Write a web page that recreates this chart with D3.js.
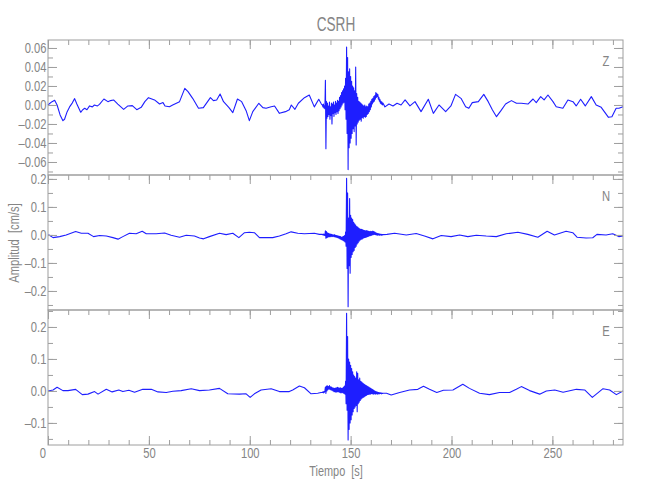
<!DOCTYPE html>
<html><head><meta charset="utf-8">
<script src="https://cdn.jsdelivr.net/npm/d3@7"></script>
<style>
body{margin:0;background:#fff}
text{font-family:"Liberation Sans",Arial,sans-serif;fill:#858585;white-space:pre}
</style>
</head><body><svg id="c" width="650" height="500"></svg>
<script>
// ---------- data ----------
const title = "CSRH";
const components = ["Z", "N", "E"];
const xLabel = "Tiempo  [s]";
const yLabel = "Amplitud  [cm/s]";
const timeDomain = [0, 285];
const xTicks = [0, 50, 100, 150, 200, 250];
const xMinorStep = 10;

const zDomain = [-0.0737, 0.0684];
const nDomain = [-0.268, 0.214];
const eDomain = [-0.169, 0.253];
const zTicks = [0.06, 0.04, 0.02, 0.00, -0.02, -0.04, -0.06];
const nTicks = [0.2, 0.1, 0.0, -0.1, -0.2];
const eTicks = [0.2, 0.1, 0.0, -0.1];
const zMinorStep = 0.01, nMinorStep = 0.05, eMinorStep = 0.05;

// quiet parts of the traces (time [s], amplitude [cm/s])
const zT = [0,0.5,2,3.3,4.5,6,7.4,8.2,9.5,10.7,12,13.2,14.3,16.2,17.2,18.2,19.3,20.6,22,23,24.5,25.5,27.7,29.7,31,32.5,34.6,37.5,39.6,41.8,44,46.2,48,49.8,52.8,55.3,57,58,60.2,61.8,65.2,67.8,69.4,71.7,74.6,77,80.5,82,83.6,85.3,87,89.6,91.6,93.9,96,98.2,99.8,101.5,104.5,106.5,108.1,110.6,112.3,114.7,117.7,119.6,120.6,122.4,124.1,127.1,129.5,132,134.2,135.5,
  167,169,171,173,175,177,179.4,181.9,184.9,188.5,191,193.8,197.1,199.7,202,204.7,207,208.6,210.3,213.3,216,218.2,220.3,222.3,224.5,226.8,229.7,232.2,234.6,237.9,240.4,242,244.2,245.9,247.8,250.3,251.9,255.2,257.7,260.2,261.8,264,266.3,269.3,271.7,274.2,277.8,279.5,281.6,283,285];
const zV = [0,0.001,0.0035,0.005,0,-0.0105,-0.0165,-0.015,-0.007,-0.002,0.002,0.0067,0.001,-0.0077,-0.005,-0.0035,-0.005,-0.001,-0.002,0,-0.001,0.0007,0.0063,0.0035,0.0046,0.0053,0.001,-0.0046,-0.001,-0.0007,-0.0049,-0.0025,0.0035,0.0077,0.0053,0.001,0.0025,-0.001,-0.0018,0,0.0035,0.0175,0.014,0.007,-0.0035,-0.0028,0.0077,0.0046,0.0053,0.0116,0.0035,-0.0025,-0.008,0.0063,0.0035,-0.006,-0.0165,-0.007,0.0018,-0.0028,-0.0035,-0.0018,-0.001,-0.0088,-0.007,-0.005,0,-0.0046,0.0018,0.0077,0.0105,-0.002,0.006,0.001,
  -0.002,0.001,-0.001,0.0018,0,0.0053,-0.001,0.0035,-0.007,0.006,-0.0088,0,-0.007,-0.001,0.0112,0.007,-0.0018,-0.0035,0.0025,0.0035,0.0112,0.0035,-0.0053,-0.0123,-0.006,0.001,0.0046,0.0018,0.0018,0.001,0.0063,0.0025,0.0088,0.0053,0.0105,0.0035,-0.0018,-0.0035,0.0053,0.0035,-0.001,0.006,-0.001,0.0088,0,-0.0025,-0.013,-0.0123,-0.0035,-0.0035,-0.0018];

const nT = [0,0.5,2.5,5.8,9,13.7,16.5,19.8,22.6,25.6,28.9,32.2,34.7,37.1,40.4,43.7,46.7,48.7,53.6,57.8,61,65.2,68.5,72.6,75.1,77.1,80,85,88.3,91.6,94.6,97.4,99.8,102.3,104.8,108.1,111.4,114.7,118,120.5,123.8,127.1,132,134.5,
  168,171.8,177.6,182.5,186.6,190.8,194.9,199.8,204,208.1,212.3,217.2,222.2,227.1,232.9,237.8,242.8,247.4,251,256.8,260.1,262.2,266.7,270,272.1,276.6,279.9,282.9,285];
const nV = [0,0,-0.0095,-0.006,0,0.012,0.006,0.006,-0.006,-0.002,-0.004,-0.0095,-0.015,-0.006,0.006,0.004,0.013,0.004,0.004,0.007,-0.001,-0.008,-0.001,-0.004,-0.011,-0.014,-0.006,0.006,0.001,0.006,-0.0095,0.008,0.0095,0.008,-0.0095,-0.0095,-0.0095,-0.004,0.004,0.011,0.006,0.004,0.006,0.002,
  0.002,0.006,0,0.005,-0.004,-0.014,-0.002,-0.006,0,-0.006,-0.001,-0.004,-0.006,0.004,0.0095,0.002,-0.008,0.013,0,0.013,0.008,-0.008,-0.011,-0.01,0.002,0,0.004,-0.006,-0.004];

const eT = [0,2.5,4.5,7.4,9.9,13.7,17,19.8,23.1,24.8,28.9,31.8,35.1,37.1,40.1,42.9,47,51.2,54.5,58.6,61.9,66,71,75.1,80,85,89.1,94.9,98.2,100.2,102.3,105.6,110.6,114.7,119.6,121.3,124.6,127.1,130.4,133.7,135.3,
  167.8,170.1,174.3,179.2,183.3,186.1,189.1,192.7,196,200.7,205.6,208.9,213.9,218.8,223.8,228.8,232.1,234.6,238.7,243.7,247,251.2,255.3,261.9,266,269.8,275.1,278.4,281.7,285];
const eV = [0,0.003,0.0115,0.001,0.001,0.005,-0.0115,-0.01,-0.002,-0.01,0.005,-0.003,0.003,-0.002,0.002,-0.004,0.005,0.005,-0.003,-0.005,-0.001,0.001,0.007,0.001,0.003,0.008,-0.009,-0.01,-0.009,-0.02,-0.009,0.003,0.007,-0.002,-0.002,0.003,0.0155,0.01,-0.009,-0.007,-0.005,
  -0.007,-0.0125,-0.005,0.003,0.005,0.0146,0.005,-0.005,0.002,0.003,0.021,0.008,-0.007,-0.0115,-0.005,-0.005,0.005,0.0135,0.001,-0.01,0,0.003,-0.004,0.005,0.003,-0.02,0.007,0.003,-0.0115,0];

// earthquake section, sampled every 0.25 s from 136 s to 166 s
const burstStart = 136, burstStep = 0.25;
const zBurst = [0,-0.002,0.001,-0.003,-0.001,-0.004,0.026,-0.046,0.004,-0.014,0.002,-0.012,-0.001,-0.01,0.003,-0.015,-0.002,-0.011,0.002,-0.02,0.001,-0.009,0.003,-0.012,0,-0.008,0.004,-0.01,0.002,-0.007,0.005,-0.009,0.004,-0.006,0.008,-0.004,0.01,-0.002,0.013,0,0.015,0.002,0.017,0.003,0.02,-0.005,0.028,-0.015,0.061,-0.03,0.05,-0.068,0.035,-0.045,0.038,-0.04,0.03,-0.035,0.025,-0.03,0.02,-0.025,0.018,-0.028,0.015,-0.022,0.04,-0.042,0.012,-0.02,0.008,-0.018,0.004,-0.016,0.003,-0.015,0.002,-0.017,0.001,-0.013,0,-0.014,-0.001,-0.012,0,-0.013,-0.002,-0.012,-0.001,-0.01,-0.002,-0.009,0.001,-0.007,0.002,-0.005,0.004,-0.002,0.006,0.001,0.007,0.003,0.009,0.004,0.01,0.006,0.013,0.008,0.012,0.009,0.011,0.006,0.008,0.004,0.006,0.002,0.004,0.001,0.003,0,0.002];
const nBurst = [0.002,0,0.003,-0.001,0.002,-0.002,0.015,-0.012,0.012,-0.01,0.008,-0.008,0.006,-0.006,0.004,-0.007,0.003,-0.005,0.002,-0.006,0.001,-0.005,0,-0.006,0.001,-0.007,-0.001,-0.008,-0.002,-0.009,-0.003,-0.01,-0.004,-0.012,-0.005,-0.014,-0.006,-0.016,-0.008,-0.018,-0.007,-0.02,-0.005,-0.022,-0.002,-0.025,0.01,-0.04,0.202,-0.12,0.15,-0.256,0.06,-0.11,0.13,-0.137,0.07,-0.08,0.06,-0.07,0.055,-0.06,0.045,-0.055,0.04,-0.045,0.035,-0.04,0.03,-0.032,0.028,-0.028,0.025,-0.022,0.022,-0.018,0.02,-0.015,0.02,-0.014,0.018,-0.012,0.017,-0.01,0.016,-0.009,0.015,-0.008,0.016,-0.006,0.014,-0.005,0.013,-0.004,0.012,-0.003,0.013,-0.002,0.012,0,0.014,0.001,0.012,0.002,0.01,0.001,0.008,0,0.006,-0.001,0.005,0,0.004,-0.001,0.003,0,0.002,-0.001,0.002,0,0.001];
const eBurst = [-0.005,-0.003,-0.006,-0.002,-0.004,0,0.012,-0.008,0.015,0,0.016,0.004,0.014,0.006,0.017,0.005,0.013,0.003,0.012,0.002,0.01,0,0.009,-0.002,0.008,-0.003,0.009,-0.004,0.01,-0.003,0.011,-0.002,0.01,-0.004,0.009,-0.005,0.01,-0.006,0.008,-0.005,0.009,-0.006,0.012,-0.008,0.015,-0.01,0.03,-0.04,0.243,-0.06,0.17,-0.153,0.1,-0.12,0.09,-0.1,0.08,-0.09,0.07,-0.075,0.06,-0.065,0.05,-0.055,0.045,-0.05,0.04,-0.045,0.06,-0.065,0.055,-0.04,0.035,-0.035,0.04,-0.03,0.03,-0.025,0.028,-0.022,0.025,-0.02,0.022,-0.018,0.02,-0.016,0.018,-0.014,0.016,-0.012,0.014,-0.011,0.012,-0.01,0.01,-0.01,0.008,-0.009,0.006,-0.009,0.004,-0.01,0.002,-0.009,0,-0.01,-0.002,-0.009,-0.003,-0.01,-0.004,-0.009,-0.005,-0.009,-0.006,-0.008,-0.006,-0.009,-0.007,-0.008,-0.007];

// ---------- chart ----------
const svg = d3.select("#c");
const left = 48, right = 623;
const panelTops = [40, 175, 310], panelH = 135;
const narrow = 0.8;

const x = d3.scaleLinear().domain(timeDomain).range([left, right]);

function series(T, V, burst) {
  const pts = T.map((t, i) => [t, V[i]]);
  burst.forEach((v, i) => pts.push([burstStart + i * burstStep, v]));
  pts.sort((a, b) => a[0] - b[0]);
  return pts;
}

function signed(fmt) {
  return d => (d < -1e-12 ? "\u2013" : "") + fmt(Math.abs(d));
}

const panels = [
  {name: components[0], domain: zDomain, ticks: zTicks, minor: zMinorStep, fmt: signed(d3.format(".2f")), data: series(zT, zV, zBurst)},
  {name: components[1], domain: nDomain, ticks: nTicks, minor: nMinorStep, fmt: signed(d3.format(".1f")), data: series(nT, nV, nBurst)},
  {name: components[2], domain: eDomain, ticks: eTicks, minor: eMinorStep, fmt: signed(d3.format(".1f")), data: series(eT, eV, eBurst)}
];

const axisColor = "#9e9e9e";

function minorValues(domain, step) {
  const out = [];
  const k0 = Math.ceil(domain[0] / step - 1e-9), k1 = Math.floor(domain[1] / step + 1e-9);
  for (let k = k0; k <= k1; k++) out.push(+(k * step).toFixed(6));
  return out;
}
const xMinor = minorValues(timeDomain, xMinorStep);

function styleAxis(g) {
  g.select(".domain").remove();
  g.selectAll("line").attr("stroke", axisColor).attr("stroke-width", 1);
  g.selectAll("text").attr("fill", "#858585").style("font-size", "14px")
    .attr("transform", `scale(${narrow},1)`);
}

panels.forEach((p, i) => {
  const top = panelTops[i], bottom = top + panelH;
  const y = d3.scaleLinear().domain(p.domain).range([bottom, top]);
  const g = svg.append("g");

  // trace
  g.append("path")
    .datum(p.data)
    .attr("fill", "none")
    .attr("stroke", "#1e1eff")
    .attr("stroke-width", 1.1)
    .attr("stroke-linejoin", "round")
    .attr("d", d3.line().x(d => x(d[0])).y(d => y(d[1])));

  // left axis
  g.append("g").attr("transform", `translate(${left},0)`)
    .call(d3.axisLeft(y).tickValues(minorValues(p.domain, p.minor)).tickSize(-5).tickFormat(""))
    .call(styleAxis);
  g.append("g").attr("transform", `translate(${left},0)`)
    .call(d3.axisLeft(y).tickValues(p.ticks).tickSize(-9).tickPadding(2).tickFormat(p.fmt))
    .call(styleAxis);
  // right axis
  g.append("g").attr("transform", `translate(${right},0)`)
    .call(d3.axisRight(y).tickValues(minorValues(p.domain, p.minor)).tickSize(-5).tickFormat(""))
    .call(styleAxis);
  g.append("g").attr("transform", `translate(${right},0)`)
    .call(d3.axisRight(y).tickValues(p.ticks).tickSize(-9).tickFormat(""))
    .call(styleAxis);
  // top axis
  g.append("g").attr("transform", `translate(0,${top})`)
    .call(d3.axisTop(x).tickValues(xMinor).tickSize(-5).tickFormat(""))
    .call(styleAxis);
  g.append("g").attr("transform", `translate(0,${top})`)
    .call(d3.axisTop(x).tickValues(xTicks).tickSize(-9).tickFormat(""))
    .call(styleAxis);

  // frame
  g.append("rect").attr("x", left).attr("y", top).attr("width", right - left).attr("height", panelH)
    .attr("fill", "none").attr("stroke", axisColor).attr("stroke-width", 1);

  // component label
  g.append("text").attr("transform", `translate(606,${top + 26}) scale(${narrow},1)`)
    .attr("text-anchor", "middle").style("font-size", "14px").text(p.name);

  if (i === panels.length - 1) {
    g.append("g").attr("transform", `translate(0,${bottom})`)
      .call(d3.axisBottom(x).tickValues(xMinor).tickSize(-5).tickFormat(""))
      .call(styleAxis);
    const xb = g.append("g").attr("transform", `translate(0,${bottom})`)
      .call(d3.axisBottom(x).tickValues(xTicks).tickSize(-9).tickPadding(3).tickFormat(d3.format("d")))
      .call(styleAxis);
    xb.selectAll(".tick text").filter(d => d === 0).attr("dx", -7);
  }
});

svg.append("text").attr("transform", "translate(336,31) scale(0.68,1)")
  .attr("text-anchor", "middle").style("font-size", "20px").text(title);
svg.append("text").attr("transform", `translate(336,476) scale(0.78,1)`)
  .attr("text-anchor", "middle").style("font-size", "14px").text(xLabel);
svg.append("text").attr("transform", `translate(19,243) rotate(-90) scale(${narrow},1)`)
  .attr("text-anchor", "middle").style("font-size", "14px").text(yLabel);
</script></body></html>
